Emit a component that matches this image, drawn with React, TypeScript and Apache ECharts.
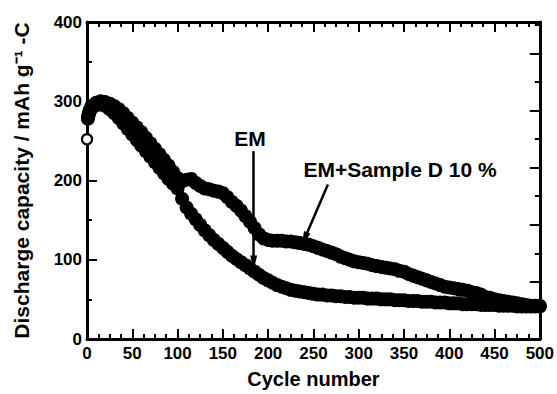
import { useEffect, useRef } from "react";
import * as echarts from "echarts";

// Cycle numbers at which capacity was sampled (shared by both cells)
const CYCLES = [
  0, 1, 2, 3, 5, 10, 15, 20, 25, 30, 35, 40, 45, 50, 55, 60, 65, 70, 75, 80, 85, 90, 95,
  100, 105, 110, 115, 120, 125, 130, 135, 140, 145, 150, 155, 160, 165, 170, 175, 180, 185,
  190, 195, 200, 205, 210, 215, 220, 225, 230, 235, 240, 245, 250, 255, 260, 265, 270, 275,
  280, 285, 290, 295, 300, 305, 310, 315, 320, 325, 330, 335, 340, 345, 350, 355, 360, 365,
  370, 375, 380, 385, 390, 395, 400, 405, 410, 415, 420, 425, 430, 435, 440, 445, 450, 455,
  460, 465, 470, 475, 480, 485, 490, 495, 500,
];

// Discharge capacity (mAh g-1) of the EM electrode
const EM_CAPACITY = [
  252, 278, 283, 287, 291, 295, 296, 294, 290, 285, 279, 272, 265, 258, 251, 244, 237, 230, 223, 216, 209, 202, 196,
  190, 177, 166, 158, 151, 144, 137, 131, 125, 120, 115, 110, 105, 101, 97, 93, 89, 85,
  81, 77, 74, 71, 68, 66, 64, 62, 61, 60, 59, 58, 57, 56, 56, 55, 55, 54,
  54, 53, 53, 52, 52, 52, 51, 51, 51, 50, 50, 50, 49, 49, 49, 48, 48, 48,
  47, 47, 47, 46, 46, 46, 45, 45, 45, 44, 44, 44, 44, 43, 43, 43, 43, 42,
  42, 42, 42, 41, 41, 41, 41, 41, 41,
];

// Discharge capacity (mAh g-1) of the EM + Sample D 10 % electrode
const SAMPLE_CAPACITY = [
  252, 280, 285, 289, 294, 298, 300, 299, 297, 294, 290, 285, 279, 273, 267, 261, 254, 247, 240, 233, 226, 219, 211,
  203, 199, 201, 202, 197, 193, 190, 189, 187, 186, 184, 179, 173, 168, 162, 155, 148, 140,
  132, 127, 125, 124, 124, 124, 123, 123, 122, 121, 120, 119, 117, 115, 113, 111, 109, 107,
  104, 102, 100, 98, 97, 96, 95, 93, 92, 91, 90, 89, 88, 86, 85, 82, 80, 78,
  76, 74, 72, 70, 68, 66, 65, 64, 63, 62, 61, 59, 58, 56, 53, 52, 50, 49,
  48, 47, 46, 45, 44, 43, 42, 42, 42,
];

// Arrow annotations, in data coordinates [cycle, capacity]
const EM_ARROW = [[184, 237], [184, 96]];
const SAMPLE_ARROW = [[266, 195], [240, 126]];

const FONT = "'Liberation Sans', Arial, Helvetica, sans-serif";

const toPoints = (ys: number[]) =>
  CYCLES.map((c, i) =>
    c === 0
      ? {
          value: [c, ys[i]],
          symbolSize: 10,
          itemStyle: { color: "#fff", borderColor: "#000", borderWidth: 2, opacity: 1 },
        }
      : [c, ys[i]]
  );

const axisLine = { show: true, onZero: false, lineStyle: { color: "#000", width: 3 } };
const labelStyle = { color: "#000", fontSize: 17, fontWeight: "bold" as const, fontFamily: FONT };
const nameStyle = { color: "#000", fontSize: 20, fontWeight: "bold" as const, fontFamily: FONT };

export default function App() {
  const ref = useRef<HTMLDivElement>(null);

  useEffect(() => {
    if (!ref.current) return;
    const chart = echarts.init(ref.current, null, { renderer: "svg" });

    const xCommon = {
      type: "value" as const,
      min: 0,
      max: 500,
      interval: 50,
      axisLine,
      axisTick: { show: true, inside: true, length: 10, lineStyle: { color: "#000", width: 2 } },
      minorTick: { show: true, splitNumber: 4, length: 5, lineStyle: { color: "#000", width: 2 } },
      splitLine: { show: false },
      minorSplitLine: { show: false },
    };

    const scatterStyle = { color: "#000", opacity: 1, borderWidth: 0, borderColor: "#000" };

    chart.setOption({
      animation: false,
      backgroundColor: "#fff",
      grid: { left: 87, right: 13, top: 22, bottom: 50, containLabel: false },
      xAxis: [
        {
          ...xCommon,
          position: "bottom",
          axisLabel: { ...labelStyle, margin: 6 },
          name: "Cycle number",
          nameLocation: "middle",
          nameGap: 30,
          nameTextStyle: nameStyle,
        },
        { ...xCommon, position: "top", axisLabel: { show: false } },
      ],
      yAxis: [
        {
          type: "value",
          position: "left",
          min: 0,
          max: 400,
          interval: 100,
          axisLine,
          axisTick: { show: true, inside: true, length: 10, lineStyle: { color: "#000", width: 2 } },
          minorTick: { show: true, splitNumber: 2, length: 5, lineStyle: { color: "#000", width: 2 } },
          splitLine: { show: false },
          minorSplitLine: { show: false },
          axisLabel: { ...labelStyle, margin: 5 },
          name: "Discharge capacity / mAh g⁻¹ -C",
          nameLocation: "middle",
          nameRotate: 90,
          nameGap: 55,
          nameTextStyle: { ...nameStyle, fontSize: 21 },
        },
        {
          type: "value",
          position: "right",
          min: 0,
          max: 5.55,
          interval: 1,
          axisLine,
          axisTick: { show: true, inside: true, length: 10, lineStyle: { color: "#000", width: 2 } },
          minorTick: { show: true, splitNumber: 2, length: 5, lineStyle: { color: "#000", width: 2 } },
          splitLine: { show: false },
          minorSplitLine: { show: false },
          axisLabel: { show: false },
        },
      ],
      series: [
        {
          name: "EM",
          type: "scatter",
          xAxisIndex: 0,
          yAxisIndex: 0,
          symbol: "circle",
          symbolSize: 14,
          itemStyle: scatterStyle,
          emphasis: { disabled: true },
          data: toPoints(EM_CAPACITY),
          markLine: {
            silent: true,
            symbol: ["none", "triangle"],
            symbolSize: [7, 15],
            lineStyle: { color: "#000", width: 2.5, type: "solid", opacity: 1 },
            label: { show: false },
            emphasis: { disabled: true },
            data: [
              [{ coord: EM_ARROW[0] }, { coord: EM_ARROW[1] }],
              [{ coord: SAMPLE_ARROW[0] }, { coord: SAMPLE_ARROW[1] }],
            ],
          },
        },
        {
          name: "EM+Sample D 10 %",
          type: "scatter",
          xAxisIndex: 0,
          yAxisIndex: 0,
          symbol: "circle",
          symbolSize: 14,
          itemStyle: scatterStyle,
          emphasis: { disabled: true },
          data: toPoints(SAMPLE_CAPACITY),
        },
      ],
      graphic: [
        {
          type: "text",
          x: 250,
          y: 138.5,
          style: {
            text: "EM",
            fill: "#000",
            font: `bold 21px ${FONT}`,
            textAlign: "center",
            textVerticalAlign: "middle",
          },
        },
        {
          type: "text",
          x: 400,
          y: 169,
          style: {
            text: "EM+Sample D 10 %",
            fill: "#000",
            font: `bold 21px ${FONT}`,
            textAlign: "center",
            textVerticalAlign: "middle",
          },
        },
      ],
    });

    return () => chart.dispose();
  }, []);

  return (
    <div
      ref={ref}
      style={{ position: "fixed", left: 0, top: 0, width: 557, height: 394, background: "#fff" }}
    />
  );
}
